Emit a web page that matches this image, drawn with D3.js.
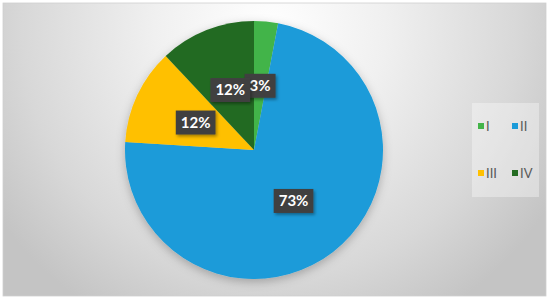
<!DOCTYPE html>
<html><head><meta charset="utf-8">
<script src="https://cdn.jsdelivr.net/npm/d3@7/dist/d3.min.js"></script>
<style>html,body{margin:0;padding:0;background:#fff;}svg{display:block;}</style>
</head><body>
<script>
const categories = ["I", "II", "III", "IV"];
const values = [3, 73, 12, 12];
const labels = ["3%", "73%", "12%", "12%"];
const colors = ["#43b449", "#1a9bd9", "#ffc000", "#246b22"];

const W = 550, H = 301;
const svg = d3.select("body").append("svg").attr("width", W).attr("height", H);
const defs = svg.append("defs");

const bg = defs.append("radialGradient").attr("id", "bg")
  .attr("gradientUnits", "userSpaceOnUse")
  .attr("cx", 270).attr("cy", 30).attr("r", 330);
bg.append("stop").attr("offset", "0%").attr("stop-color", "#ffffff");
bg.append("stop").attr("offset", "35%").attr("stop-color", "#f0f0f0");
bg.append("stop").attr("offset", "75%").attr("stop-color", "#d8d8d8");
bg.append("stop").attr("offset", "100%").attr("stop-color", "#c4c4c4");

const sh = defs.append("filter").attr("id", "sh").attr("x", "-20%").attr("y", "-20%").attr("width", "140%").attr("height", "140%");
sh.append("feDropShadow").attr("dx", 0).attr("dy", 3).attr("stdDeviation", 5)
  .attr("flood-color", "#000").attr("flood-opacity", 0.25);
const sh2 = defs.append("filter").attr("id", "sh2").attr("x", "-30%").attr("y", "-30%").attr("width", "160%").attr("height", "160%");
sh2.append("feDropShadow").attr("dx", 1.5).attr("dy", 2).attr("stdDeviation", 1.5)
  .attr("flood-color", "#000").attr("flood-opacity", 0.35);

svg.append("rect").attr("x", 3).attr("y", 3).attr("width", 543).attr("height", 293)
  .attr("fill", "url(#bg)").attr("stroke", "#d0d0d0").attr("stroke-width", 0.8);

const cx = 254, cy = 150, R = 129;
const pie = d3.pie().sort(null).value(d => d)(values);
const arc = d3.arc().innerRadius(0).outerRadius(R);
const labelArc = d3.arc().innerRadius(0).outerRadius(R);

const g = svg.append("g").attr("transform", `translate(${cx},${cy})`);
g.append("g").attr("filter", "url(#sh)")
  .selectAll("path").data(pie).join("path")
  .attr("d", arc).attr("fill", (d, i) => colors[i]);

const lg = g.append("g");
pie.forEach((d, i) => {
  const [x, y] = labelArc.centroid(d);
  const grp = lg.append("g").attr("transform", `translate(${x},${y})`);
  const rect = grp.append("rect").attr("fill", "#404040").attr("filter", "url(#sh2)");
  const t = grp.append("text").text(labels[i])
    .attr("text-anchor", "middle").attr("dy", "0.36em")
    .attr("font-family", "Lato, 'Open Sans', sans-serif").attr("font-weight", "bold")
    .attr("font-size", 15).attr("fill", "#ffffff");
  const bw = t.node().getComputedTextLength() + 10;
  rect.attr("x", -bw / 2).attr("y", -12).attr("width", bw).attr("height", 24);
});

// legend
const leg = svg.append("g");
leg.append("rect").attr("x", 472).attr("y", 103).attr("width", 67).attr("height", 94)
  .attr("fill", "#ffffff").attr("fill-opacity", 0.35);
const legPos = [[478, 123], [512, 123], [478, 170], [512, 170]];
categories.forEach((c, i) => {
  const [x, y] = legPos[i];
  leg.append("rect").attr("x", x).attr("y", y).attr("width", 6).attr("height", 6).attr("fill", colors[i]);
  leg.append("text").attr("x", x + 8).attr("y", y + 7.5).text(c)
    .attr("font-family", "Lato, 'Open Sans', sans-serif").attr("font-size", 13).attr("fill", "#595959");
});
</script>
</body></html>
